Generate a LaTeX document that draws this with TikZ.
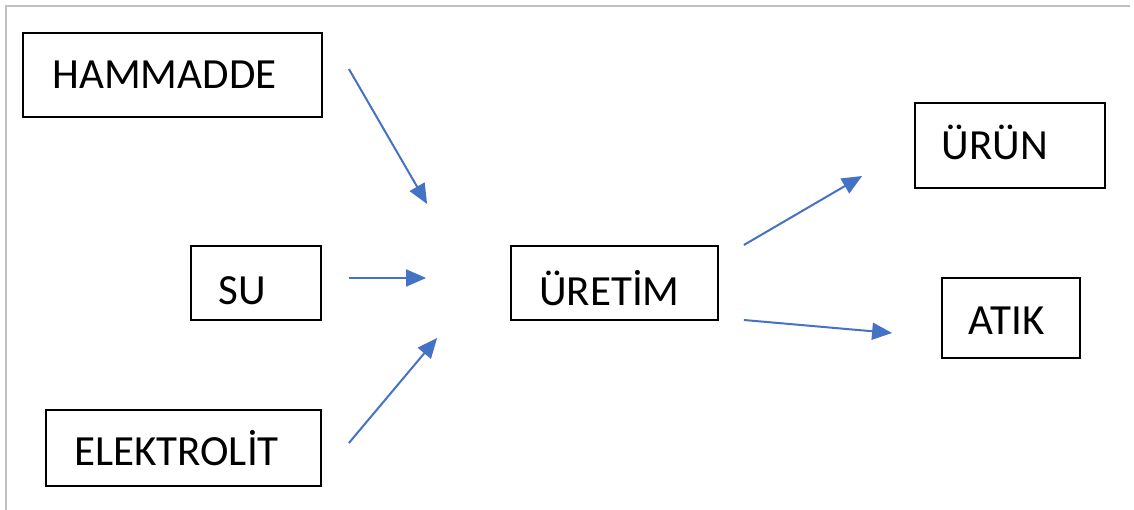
\documentclass[tikz,border=0pt]{standalone}
\usepackage{fontspec}
\setmainfont{Carlito}
\usepackage{tikz}
\usetikzlibrary{calc,arrows.meta}

\definecolor{okmavi}{RGB}{68,114,196}
\definecolor{cercevegri}{RGB}{192,192,192}

% text inside a box, moved left by #1/2 and down by #2
\newcommand{\kaydir}[3]{\raisebox{-#2pt}{\hspace*{-#1pt}#3}}

\begin{document}
\begin{tikzpicture}[x=1pt, y=-1pt,
    kutu/.style={rectangle, draw=black, line width=1.8pt, inner sep=0pt,
        font=\fontsize{43}{50}\selectfont, text height=27.7pt, text depth=0pt},
    ok/.style={draw=okmavi, line width=2pt, -{Triangle[length=20pt, width=17pt]}}]
    \useasboundingbox (0,0) rectangle (1134,510);
    \draw[cercevegri, line width=2pt] (6,510) -- (6,6) -- (1130,6);

    \node[kutu, minimum width=299, minimum height=84] (hammadde) at (172.5,75) {\kaydir{16}{0}{HAMMADDE}};
    
    \node[kutu, minimum width=130, minimum height=74] (su) at ($(hammadde) + (83.5,208)$) {\kaydir{28}{8}{SU}};
    
    \node[kutu, minimum width=275, minimum height=76] (elektrolit) at ($(hammadde) + (11,373)$) {\kaydir{14}{4}{ELEKTROLİT}};
    
    \node[kutu, minimum width=207, minimum height=74] (uretim) at ($(hammadde) + (442,208)$) {\kaydir{10}{9}{ÜRETİM}};
    
    \node[kutu, minimum width=190, minimum height=85] (urun) at ($(hammadde) + (837.5,70.5)$) {\kaydir{30}{0}{ÜRÜN}};
    
    \node[kutu, minimum width=138, minimum height=80] (atik) at ($(hammadde) + (838.5,243)$) {\kaydir{9}{3}{ATIK}};
    
    
    
    \coordinate (h1) at ($(hammadde.east) + (26,-6)$);
    \coordinate (h2) at ($(uretim.west) + (-83,-79)$);
    \coordinate (s1) at ($(su.east) + (27,-5)$);
    \coordinate (s2) at ($(uretim.west) + (-84,-5)$);
    \coordinate (e1) at ($(elektrolit.east) + (27,-5)$);
    \coordinate (e2) at ($(uretim.west) + (-73,55)$);
    \coordinate (u1) at ($(uretim.east) + (25,-38)$);
    \coordinate (u2) at ($(urun.west) + (-52,30.5)$);
    \coordinate (a1) at ($(uretim.east) + (25,37)$);
    \coordinate (a2) at ($(atik.west) + (-49,15)$);
    
    \draw[ok] (h1) -- (h2);
    \draw[ok] (s1) -- (s2);
    \draw[ok] (e1) -- (e2);
    \draw[ok] (u1) -- (u2);
    \draw[ok] (a1) -- (a2);
    
    \end{tikzpicture}
\end{document}
